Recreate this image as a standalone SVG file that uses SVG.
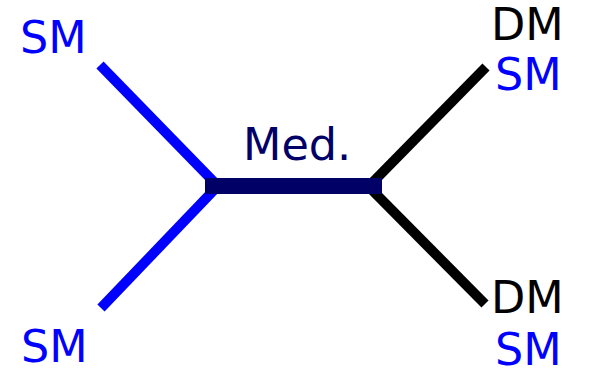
<svg xmlns="http://www.w3.org/2000/svg" width="590" height="375" viewBox="0 0 590 375">
  <style>
    text { font-family: "DejaVu Sans", sans-serif; font-size: 44.5px; }
    .sm { fill: #0000ff; }
    .dm { fill: #000000; }
    .med { fill: #000066; }
    .blue { stroke: #0000ff; stroke-width: 10; fill: none; }
    .black { stroke: #000000; stroke-width: 10; fill: none; }
  </style>
  <rect width="590" height="375" fill="#ffffff"/>
  <g id="connectors">
    <line class="blue" x1="100" y1="65" x2="214" y2="182"/>
    <line class="blue" x1="101" y1="308" x2="214" y2="190"/>
    <line class="black" x1="372" y1="183" x2="486" y2="67"/>
    <line class="black" x1="372" y1="190" x2="485" y2="304"/>
    <rect id="med-edge" x="205" y="178" width="177" height="16" fill="#000066"/>
  </g>
  <g id="label-med"><text class="med" x="243" y="160">Med.</text></g>
  <g id="node-sm-top-left"><text class="sm" x="20" y="53">SM</text></g>
  <g id="node-sm-bottom-left"><text class="sm" x="21" y="362">SM</text></g>
  <g id="node-top-right">
    <text class="dm" x="491" y="40">DM</text>
    <text class="sm" x="495" y="90">SM</text>
  </g>
  <g id="node-bottom-right">
    <text class="dm" x="491" y="313">DM</text>
    <text class="sm" x="495" y="365">SM</text>
  </g>
</svg>
